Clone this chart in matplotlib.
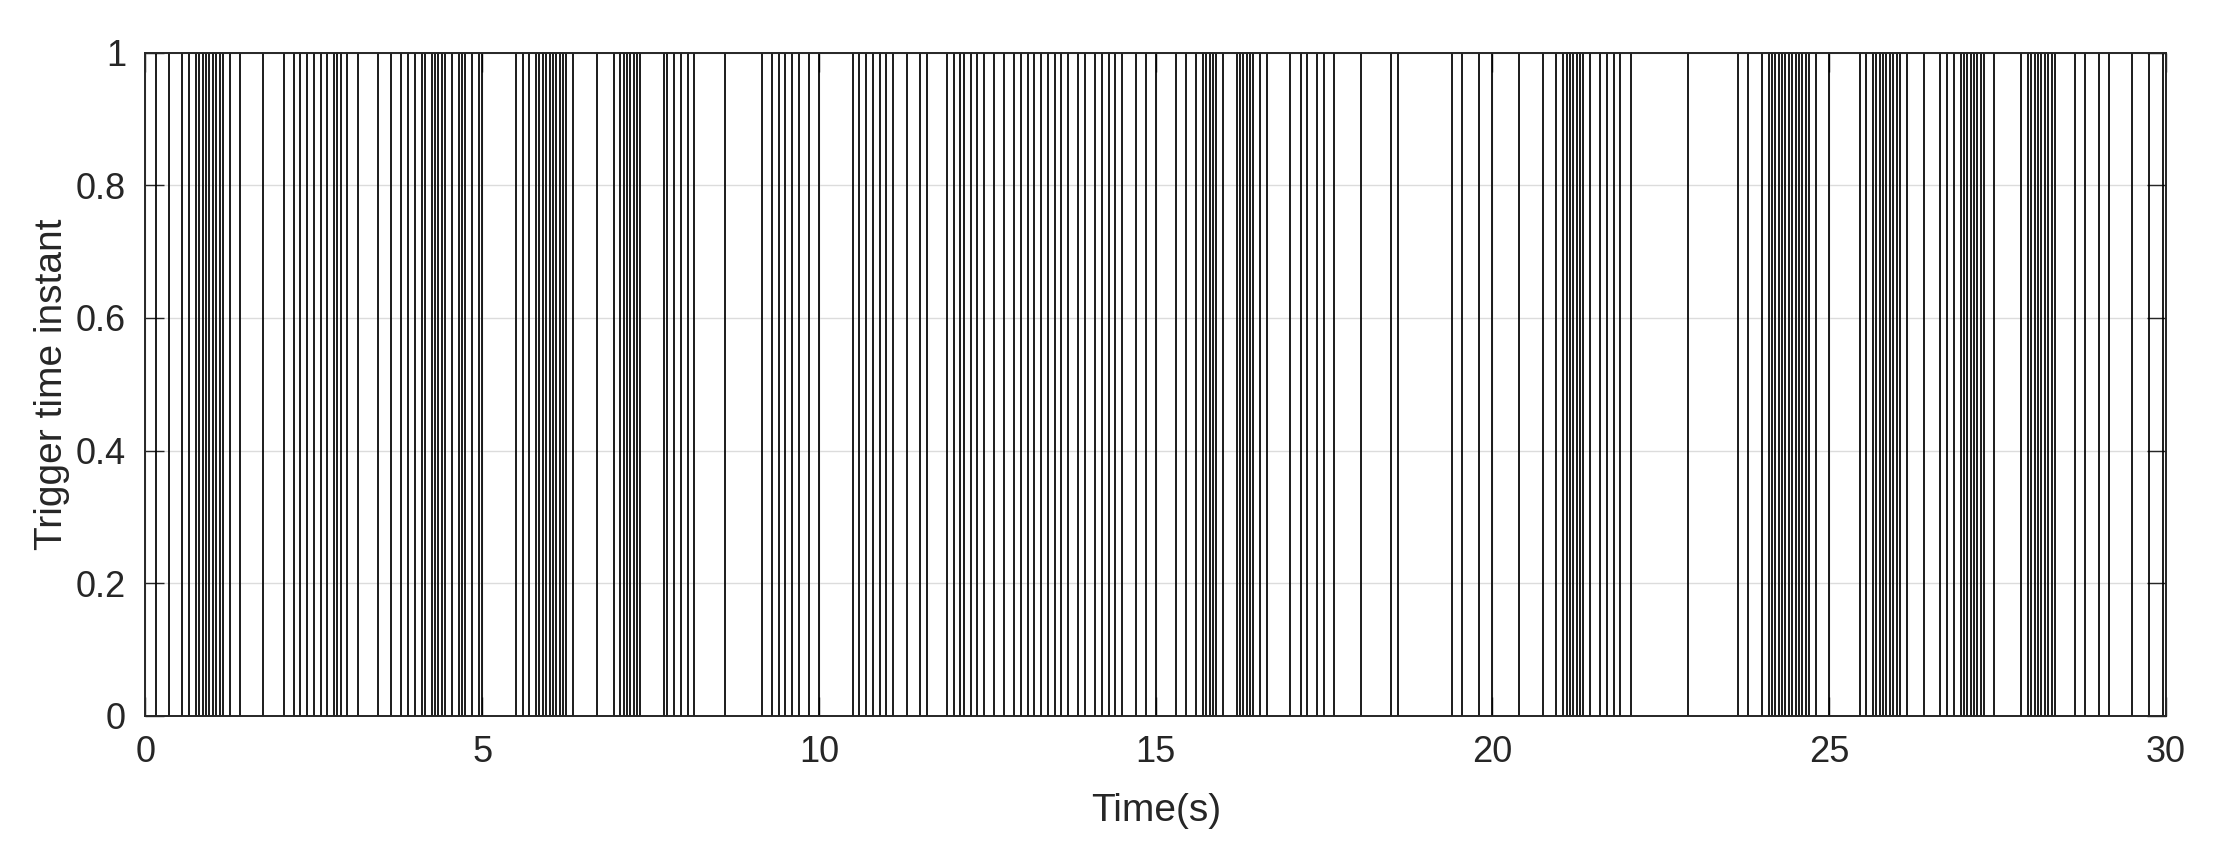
import numpy as np
import matplotlib
matplotlib.use("Agg")
import matplotlib.pyplot as plt

# trigger instants (s)
trigger_times = [
    0.15, 0.35, 0.55, 0.65, 0.75, 0.8, 0.85, 0.9, 0.95, 1.0, 1.05, 1.1, 1.15, 1.25, 1.4, 1.75,
    2.05, 2.2, 2.3, 2.4, 2.5, 2.6, 2.7, 2.8, 2.85, 2.9, 3.0, 3.15, 3.45, 3.65, 3.8, 3.9,
    4.0, 4.1, 4.15, 4.25, 4.3, 4.35, 4.4, 4.45, 4.55, 4.65, 4.7, 4.75, 4.85, 4.95, 5.0,
    5.5, 5.6, 5.7, 5.8, 5.85, 5.9, 5.95, 6.0, 6.05, 6.1, 6.15, 6.2, 6.25, 6.35, 6.7, 6.95,
    7.05, 7.1, 7.15, 7.2, 7.25, 7.3, 7.35, 7.7, 7.75, 7.85, 7.95, 8.05, 8.15,
    8.6, 9.15, 9.3, 9.4, 9.5, 9.6, 9.7, 9.85, 10.0, 10.5, 10.6, 10.7, 10.8, 10.9,
    11.0, 11.1, 11.3, 11.5, 11.6, 11.9, 12.0, 12.1, 12.15, 12.25, 12.35, 12.45, 12.6, 12.75,
    12.9, 13.0, 13.1, 13.2, 13.3, 13.4, 13.5, 13.6,
    13.7, 13.85, 13.95, 14.1, 14.2, 14.3, 14.4, 14.5, 14.7, 14.85, 15.0, 15.3, 15.45, 15.6,
    15.7, 15.75, 15.8, 15.85, 15.9, 16.0, 16.2, 16.25, 16.3, 16.35,
    16.4, 16.45, 16.55, 16.65, 17.0, 17.15, 17.25, 17.4, 17.5, 17.65, 18.05, 18.5, 18.6,
    19.4, 19.55, 19.8, 20.0, 20.4, 20.75, 20.95, 21.05, 21.1, 21.15, 21.2, 21.25, 21.3, 21.35,
    21.45, 21.6, 21.7, 21.8,
    21.9, 22.05, 22.9, 23.65, 23.8, 24.0, 24.1, 24.15, 24.2, 24.25, 24.3, 24.35, 24.4, 24.45,
    24.5, 24.55, 24.6,
    24.65, 24.7, 24.8, 25.0, 25.45, 25.55, 25.65, 25.7, 25.75, 25.8, 25.85, 25.9, 25.95, 26.0,
    26.05, 26.15, 26.4, 26.65, 26.75, 26.85, 26.95, 27.0, 27.05, 27.1, 27.15, 27.2, 27.25, 27.3,
    27.45, 27.85, 27.95, 28.0, 28.05, 28.1, 28.15, 28.2, 28.25, 28.3, 28.35, 28.65, 28.8,
    29.0, 29.15, 29.5, 29.75, 29.95,
]
x_ticks = [0, 5, 10, 15, 20, 25, 30]
y_ticks = [0, 0.2, 0.4, 0.6, 0.8, 1]
y_tick_labels = ["0", "0.2", "0.4", "0.6", "0.8", "1"]

plt.rcParams['font.family'] = ['Liberation Sans', 'DejaVu Sans']

fig = plt.figure(figsize=(22.17, 8.47), dpi=100)
ax = fig.add_axes([0.0656, 0.1547, 0.9114, 0.7833])

ax.vlines(np.array(trigger_times), 0, 1, color="black", linewidth=1.25)

ax.set_xlim(0, 30)
ax.set_ylim(0, 1)
ax.set_xticks(x_ticks)
ax.set_yticks(y_ticks)
ax.set_yticklabels(y_tick_labels)
ax.grid(True, color="#dcdcdc", linewidth=1.0)
ax.set_axisbelow(True)

axcol = "#262626"
for s in ax.spines.values():
    s.set_color(axcol)
    s.set_linewidth(1.4)
ax.tick_params(direction="in", length=14, width=1.0, colors=axcol, labelsize=26,
               top=True, right=True, pad=14)
ax.set_xlabel("Time(s)", fontsize=28, color=axcol, labelpad=16)
ax.set_ylabel("Trigger time instant", fontsize=28, color=axcol, labelpad=4)

fig.savefig("out.png", dpi=100)
